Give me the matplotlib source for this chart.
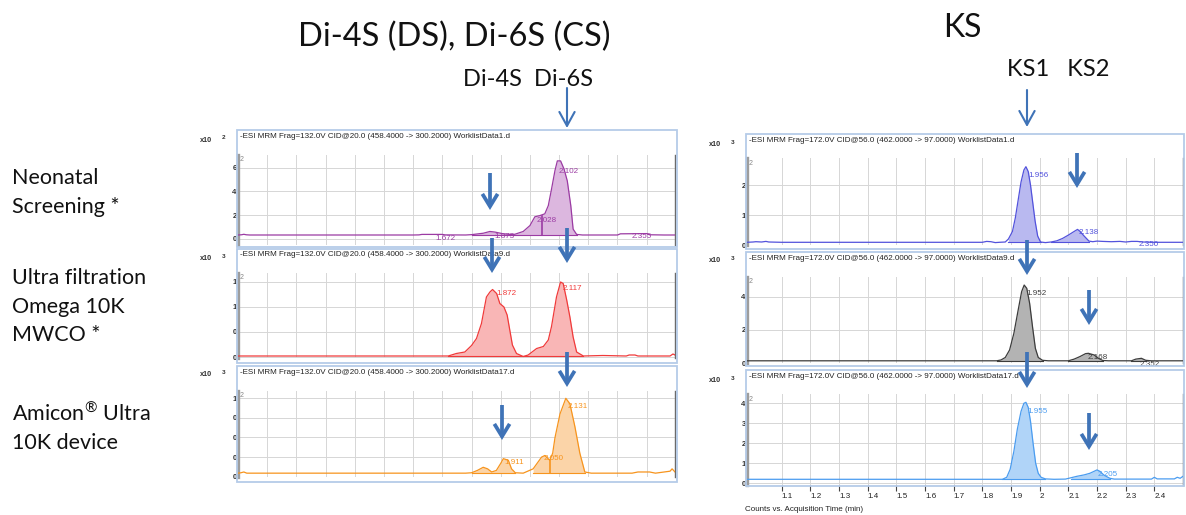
import numpy as np
import matplotlib
matplotlib.use("Agg")
import matplotlib.pyplot as plt
from matplotlib.patches import Rectangle, FancyArrowPatch, ArrowStyle

plt.rcParams['mathtext.fontset'] = 'custom'
plt.rcParams['mathtext.rm'] = 'Lato'

W, H = 1186, 515
fig = plt.figure(figsize=(W / 100, H / 100), dpi=100)

# ---------------- data ----------------
# Left panel: Di-4S / Di-6S chromatograms
l1_t = [1.00, 1.012, 1.02, 1.028, 1.04, 1.60, 1.62, 1.63, 1.70, 1.71, 1.78, 1.80, 1.84, 1.863, 1.88,
        1.909, 1.932, 1.948, 1.977, 2.000, 2.017, 2.034, 2.051, 2.063, 2.074, 2.086, 2.094, 2.105,
        2.117, 2.128, 2.140, 2.148, 2.160, 2.18, 2.22, 2.30, 2.31, 2.40, 2.41, 2.46, 2.50]
l1_v = [0.30, 0.32, 0.36, 0.32, 0.30, 0.30, 0.31, 0.35, 0.35, 0.31, 0.30, 0.33, 0.45, 0.60, 0.55,
        0.40, 0.35, 0.36, 0.60, 1.10, 1.85, 1.95, 2.10, 2.80, 4.20, 5.80, 6.60, 6.60,
        5.90, 4.90, 2.80, 0.80, 0.35, 0.30, 0.30, 0.30, 0.40, 0.42, 0.32, 0.30, 0.30]
l1_base = 0.30
l1_fill = [(1.80, 2.16)]
l1_drop = [(2.043, 1.95)]
l1_labels = [("1.672", 1.675, 0.02), ("1.873", 1.880, 0.21), ("2.028", 2.023, 1.57),
             ("2.102", 2.097, 5.70), ("2.355", 2.349, 0.21)]

l2_t = [1.00, 1.30, 1.60, 1.720, 1.748, 1.777, 1.800, 1.817, 1.834, 1.851, 1.863, 1.872, 1.886,
        1.897, 1.911, 1.922, 1.931, 1.940, 1.954, 1.977, 1.994, 2.023, 2.046, 2.063, 2.074, 2.091,
        2.105, 2.114, 2.126, 2.137, 2.148, 2.160, 2.183, 2.25, 2.33, 2.34, 2.36, 2.37, 2.48, 2.49, 2.497]
l2_v = [0.02, 0.02, 0.02, 0.02, 0.07, 0.10, 0.23, 0.37, 0.67, 1.20, 1.30, 1.35, 1.27,
        1.07, 1.00, 0.84, 0.54, 0.24, 0.07, 0.01, 0.04, 0.17, 0.21, 0.34, 0.61, 1.20,
        1.50, 1.47, 1.14, 0.80, 0.40, 0.10, 0.02, 0.03, 0.02, 0.04, 0.04, 0.02, 0.02, 0.06, 0.04]
l2_base = 0.02
l2_fill = [(1.72, 2.19)]
l2_drop = []
l2_labels = [("1.872", 1.886, 1.27), ("2.117", 2.111, 1.37)]

l3_t = [1.00, 1.01, 1.02, 1.03, 1.40, 1.78, 1.80, 1.82, 1.840, 1.855, 1.869, 1.885, 1.900, 1.909,
        1.926, 1.937, 1.950, 1.977, 2.011, 2.040, 2.051, 2.068, 2.078, 2.086, 2.103, 2.123, 2.137,
        2.154, 2.171, 2.188, 2.21, 2.35, 2.37, 2.41, 2.43, 2.48, 2.487, 2.497]
l3_v = [0.045, 0.05, 0.06, 0.045, 0.045, 0.045, 0.05, 0.08, 0.12, 0.10, 0.06, 0.08, 0.17, 0.23,
        0.21, 0.10, 0.05, 0.045, 0.10, 0.25, 0.27, 0.21, 0.30, 0.50, 0.80, 1.00, 0.93,
        0.64, 0.30, 0.06, 0.045, 0.045, 0.06, 0.06, 0.045, 0.07, 0.10, 0.06]
l3_base = 0.045
l3_fill = [(1.80, 1.955), (1.99, 2.20)]
l3_drop = [(2.068, 0.21)]
l3_labels = [("1.911", 1.914, 0.18), ("2.050", 2.046, 0.23), ("2.131", 2.128, 0.89)]

# Right panel: KS chromatograms
r1_t = [0.979, 1.00, 1.01, 1.03, 1.045, 1.055, 1.10, 1.50, 1.80, 1.815, 1.83, 1.845, 1.86, 1.88,
        1.891, 1.905, 1.915, 1.925, 1.935, 1.945, 1.952, 1.960, 1.968, 1.976, 1.984, 1.993, 2.003,
        2.02, 2.04, 2.06, 2.08, 2.10, 2.12, 2.132, 2.14, 2.155, 2.172, 2.185, 2.20, 2.22, 2.25,
        2.28, 2.30, 2.32, 2.34, 2.36, 2.40, 2.50]
r1_v = [0.09, 0.10, 0.11, 0.10, 0.12, 0.10, 0.09, 0.09, 0.09, 0.12, 0.11, 0.08, 0.09, 0.10,
        0.20, 0.45, 0.90, 1.50, 2.10, 2.50, 2.61, 2.45, 2.00, 1.40, 0.80, 0.30, 0.10,
        0.08, 0.10, 0.14, 0.22, 0.33, 0.45, 0.52, 0.46, 0.30, 0.13, 0.11, 0.13, 0.12, 0.11,
        0.12, 0.10, 0.12, 0.12, 0.10, 0.09, 0.09]
r1_base = 0.09
r1_fill = [(1.89, 2.005), (2.03, 2.18)]
r1_labels = [("1.956", 1.960, 2.33), ("2.138", 2.136, 0.43), ("2.350", 2.345, 0.0)]

r2_t = [0.979, 1.50, 1.85, 1.865, 1.88, 1.895, 1.91, 1.925, 1.937, 1.946, 1.955, 1.965, 1.975,
        1.985, 1.995, 2.01, 2.03, 2.10, 2.12, 2.14, 2.16, 2.17, 2.19, 2.205, 2.22, 2.24, 2.32,
        2.335, 2.355, 2.37, 2.39, 2.50]
r2_v = [0.15, 0.15, 0.15, 0.20, 0.35, 0.80, 1.80, 3.20, 4.30, 4.70, 4.50, 3.60, 2.20,
        0.90, 0.35, 0.18, 0.15, 0.15, 0.25, 0.40, 0.58, 0.60, 0.50, 0.30, 0.17, 0.15, 0.15,
        0.25, 0.30, 0.18, 0.15, 0.15]
r2_base = 0.15
r2_fill = [(1.85, 2.01), (2.10, 2.22), (2.32, 2.37)]
r2_labels = [("1.952", 1.954, 4.20), ("2.168", 2.167, 0.36), ("2.352", 2.349, -0.10)]

r3_t = [0.979, 1.50, 1.87, 1.885, 1.897, 1.91, 1.922, 1.935, 1.945, 1.952, 1.96, 1.968, 1.977,
        1.986, 1.995, 2.005, 2.02, 2.05, 2.09, 2.11, 2.13, 2.155, 2.175, 2.19, 2.20, 2.21, 2.225,
        2.245, 2.26, 2.39, 2.40, 2.41, 2.47, 2.48, 2.49, 2.50]
r3_v = [0.20, 0.20, 0.20, 0.30, 0.70, 1.60, 2.70, 3.60, 4.00, 4.05, 3.80, 3.10, 2.00,
        1.00, 0.50, 0.30, 0.22, 0.20, 0.21, 0.28, 0.35, 0.42, 0.50, 0.60, 0.67, 0.60, 0.40,
        0.25, 0.21, 0.21, 0.30, 0.22, 0.22, 0.30, 0.25, 0.35]
r3_base = 0.20
r3_fill = [(1.87, 2.02), (2.10, 2.25)]
r3_labels = [("1.955", 1.958, 3.58), ("2.205", 2.203, 0.42)]

left_headers = ["-ESI MRM Frag=132.0V CID@20.0 (458.4000 -> 300.2000) WorklistData1.d",
                "-ESI MRM Frag=132.0V CID@20.0 (458.4000 -> 300.2000) WorklistData9.d",
                "-ESI MRM Frag=132.0V CID@20.0 (458.4000 -> 300.2000) WorklistData17.d"]
right_headers = ["-ESI MRM Frag=172.0V CID@56.0 (462.0000 -> 97.0000) WorklistData1.d",
                 "-ESI MRM Frag=172.0V CID@56.0 (462.0000 -> 97.0000) WorklistData9.d",
                 "-ESI MRM Frag=172.0V CID@56.0 (462.0000 -> 97.0000) WorklistData17.d"]
left_exp = ["2", "3", "3"]
right_exp = ["3", "3", "3"]

l1_yt, l1_yl = [0, 2, 4, 6], ["0", "2", "4", "6"]
l2_yt, l2_yl = [0, 0.5, 1.0, 1.5], ["0", "0", "1", "1"]
l3_yt, l3_yl = [0, 0.25, 0.5, 0.75, 1.0], ["0", "0", "0", "0", "1"]
r1_yt, r1_yl = [0, 1, 2], ["0", "1", "2"]
r2_yt, r2_yl = [0, 2, 4], ["0", "2", "4"]
r3_yt, r3_yl = [0, 1, 2, 3, 4], ["0", "1", "2", "3", "4"]

x_ticks = [1.1, 1.2, 1.3, 1.4, 1.5, 1.6, 1.7, 1.8, 1.9, 2.0, 2.1, 2.2, 2.3, 2.4]
x_ticklabels = ["1.1", "1.2", "1.3", "1.4", "1.5", "1.6", "1.7", "1.8", "1.9", "2", "2.1", "2.2", "2.3", "2.4"]

row_labels = [["Neonatal", "Screening *"],
              ["Ultra filtration", "Omega 10K", "MWCO *"],
              ["Amicon$^{\u00ae}$ Ultra", "10K device"]]

# ---------------- helpers ----------------
def fx(x):
    return x / W

def fy(y):
    return 1 - y / H

def add_ax(x0, y0, x1, y1):
    return fig.add_axes([x0 / W, 1 - y1 / H, (x1 - x0) / W, (y1 - y0) / H])

FRAME = '#b5cbe8'
ARROW = '#3f73b7'
HFONT = 'Liberation Sans'
MAIN = ['Lato', 'DejaVu Sans']

def frame(x0, y0, x1, y1):
    fig.add_artist(Rectangle((fx(x0), fy(y1)), (x1 - x0) / W, (y1 - y0) / H,
                             transform=fig.transFigure, fill=False, edgecolor=FRAME, lw=1.3))

def chrom(box, xlim, ylim, t, v, base, fills, color, fillc, yt, yl, labels, drops=(), bottom=False):
    ax = add_ax(*box)
    t = np.asarray(t); v = np.asarray(v)
    for a, b in fills:
        m = (t >= a) & (t <= b)
        ax.fill_between(t[m], base, v[m], color=fillc, lw=0, zorder=2)
        ax.plot([t[m][0], t[m][-1]], [base, base], color=color, lw=0.8, zorder=3)
    ax.plot(t, v, color=color, lw=0.9, zorder=3)
    for xd, yd in drops:
        ax.plot([xd, xd], [base, yd], color=color, lw=1.2, zorder=3)
    for s, xs, ys in labels:
        ax.text(xs, ys, s, color=color, fontsize=5.8, family=HFONT, va='center', ha='left',
                zorder=4, clip_on=False)
    ax.set_xlim(*xlim)
    ax.set_ylim(*ylim)
    ax.set_xticks(x_ticks)
    ax.set_yticks(yt, yl)
    ax.grid(True, color='#d6d6d6', lw=0.7, zorder=0)
    ax.set_axisbelow(True)
    for s in ('top', 'bottom'):
        ax.spines[s].set_visible(False)
    ax.spines['left'].set_color('#9d9d9d'); ax.spines['left'].set_linewidth(2.4)
    ax.spines['right'].set_color('#6a6a6a'); ax.spines['right'].set_linewidth(1.0)
    ax.tick_params(axis='y', length=0, pad=1, labelsize=5.5, labelcolor='#333333')
    for lab in ax.get_yticklabels():
        lab.set_fontweight('bold'); lab.set_family(HFONT)
    if bottom:
        ax.tick_params(axis='x', length=4, width=0.8, color='#444444', pad=2, labelsize=5.8,
                       labelcolor='#222222')
        ax.set_xticklabels(x_ticklabels, ha='left', family=HFONT)
        ax.set_xlabel("Counts vs. Acquisition Time (min)", fontsize=5.8, family=HFONT,
                      loc='left', color='#222222')
        ax.xaxis.set_label_coords(-0.004, -0.235)
    else:
        ax.tick_params(axis='x', length=0, labelbottom=False)
    ax.text(0.004, 0.985, "2", transform=ax.transAxes, fontsize=5, color='#888888',
            va='top', ha='left', family=HFONT)
    ax.patch.set_alpha(0)
    return ax

# ---------------- frames and headers ----------------
lframes = [(236.7, 130, 676.7, 247), (236.7, 249, 676.7, 362.5), (236.7, 366, 676.7, 482)]
rframes = [(746, 134, 1184, 249), (746, 252, 1184, 366), (746, 370, 1184, 486)]
lhead_y = [136.5, 254, 372.7]
rhead_y = [141, 258.5, 376.7]
lx10_y = [140, 258, 374]
rx10_y = [145, 260, 380]
for i in range(3):
    frame(*lframes[i]); frame(*rframes[i])
    fig.text(fx(240), fy(lhead_y[i]), left_headers[i], fontsize=5.8, family=HFONT, va='center', color='#222222')
    fig.text(fx(749), fy(rhead_y[i]), right_headers[i], fontsize=5.8, family=HFONT, va='center', color='#222222')
    fig.text(fx(200), fy(lx10_y[i]), "x10", fontsize=5.2, family=HFONT, fontweight='bold', va='center', color='#333333')
    fig.text(fx(222), fy(lx10_y[i] - 2), left_exp[i], fontsize=4.6, family=HFONT, fontweight='bold', va='center', color='#333333')
    fig.text(fx(709), fy(rx10_y[i]), "x10", fontsize=5.2, family=HFONT, fontweight='bold', va='center', color='#333333')
    fig.text(fx(731), fy(rx10_y[i] - 2), right_exp[i], fontsize=4.6, family=HFONT, fontweight='bold', va='center', color='#333333')

LX = (1.0, 2.497)
RX = (0.979, 2.5)
chrom((238, 155, 675, 245), LX, (-0.55, 7.1), l1_t, l1_v, l1_base, l1_fill, '#9b3ba3', '#dcb7df', l1_yt, l1_yl, l1_labels, l1_drop)
chrom((238, 272.7, 675, 358.3), LX, (-0.026, 1.686), l2_t, l2_v, l2_base, l2_fill, '#f03a3a', '#f9b6b6', l2_yt, l2_yl, l2_labels, l2_drop)
chrom((238, 390.7, 675, 477), LX, (-0.004, 1.097), l3_t, l3_v, l3_base, l3_fill, '#f7941d', '#fbd4a8', l3_yt, l3_yl, l3_labels, l3_drop)
chrom((747, 158.3, 1183, 245), RX, (0.0, 2.89), r1_t, r1_v, r1_base, r1_fill, '#5252dc', '#b9b9f0', r1_yt, r1_yl, r1_labels)
chrom((747, 276.7, 1183, 363.3), RX, (0.0, 5.2), r2_t, r2_v, r2_base, r2_fill, '#3c3c3c', '#b3b3b3', r2_yt, r2_yl, r2_labels)
chrom((747, 394.3, 1183, 485), RX, (-0.085, 4.45), r3_t, r3_v, r3_base, r3_fill, '#4a9cf0', '#b0d4f8', r3_yt, r3_yl, r3_labels, bottom=True)

# ---------------- titles and row labels ----------------
fig.text(fx(454), fy(37), "Di-4S (DS), Di-6S (CS)", fontsize=23.5, family=MAIN, ha='center', va='center', color='#111111')
fig.text(fx(528), fy(80), "Di-4S  Di-6S", fontsize=17, family=MAIN, ha='center', va='center', color='#111111')
fig.text(fx(962), fy(28), "KS", fontsize=23, family=MAIN, ha='center', va='center', color='#111111')
fig.text(fx(1058), fy(70), "KS1   KS2", fontsize=17, family=MAIN, ha='center', va='center', color='#111111')

row_y = [[178.3, 206.7], [278.3, 306.7, 335], [413.3, 443.3]]
for labs, ys in zip(row_labels, row_y):
    for s, y in zip(labs, ys):
        fig.text(fx(12), fy(y), s, fontsize=15.5, family=MAIN, ha='left', va='center', color='#111111')

# ---------------- arrows ----------------
thin_arrows = [(567, 88, 128), (1027, 90, 127)]
thick_arrows = [(490, 173, 210), (492, 238, 273), (567, 228, 263), (567, 352, 387), (502, 405, 440),
                (1077, 153, 188), (1027, 240, 275), (1089, 290, 325), (1027, 352, 388), (1089, 413, 450)]
for x, y0, y1 in thin_arrows:
    fig.add_artist(FancyArrowPatch((fx(x), fy(y0)), (fx(x), fy(y1)), transform=fig.transFigure,
                                   arrowstyle=ArrowStyle('->', head_length=10, head_width=5.5),
                                   color=ARROW, lw=1.5, shrinkA=0, shrinkB=0, zorder=10))
for x, y0, y1 in thick_arrows:
    fig.add_artist(FancyArrowPatch((fx(x), fy(y0)), (fx(x), fy(y1)), transform=fig.transFigure,
                                   arrowstyle=ArrowStyle('->', head_length=9, head_width=5.5),
                                   color=ARROW, lw=2.7, shrinkA=0, shrinkB=0, zorder=10,
                                   joinstyle='miter', capstyle='butt'))

fig.savefig("out.png", dpi=100, facecolor='white')
